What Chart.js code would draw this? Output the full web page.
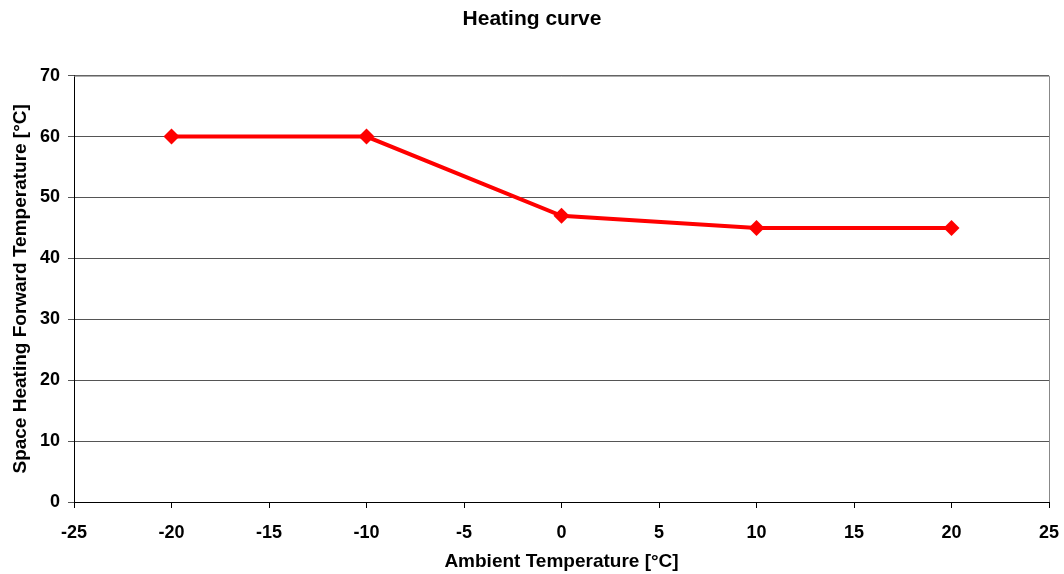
<!DOCTYPE html>
<html>
<head>
<meta charset="utf-8">
<script src="https://cdn.jsdelivr.net/npm/chart.js@4.4.1/dist/chart.umd.min.js"></script>
<style>
    html, body { margin: 0; padding: 0; background: #fff; }
    #wrap { width: 1064px; height: 574px; }
</style>
</head>
<body>
<div id="wrap"><canvas id="heatChart" width="1064" height="574"></canvas></div>
<script>
// Dữ liệu biểu đồ
var ambientTemps = [-20, -10, 0, 10, 20];
var forwardTemps = [60, 60, 47, 45, 45];
var xTicks = [-25, -20, -15, -10, -5, 0, 5, 10, 15, 20, 25];
var yTicks = [0, 10, 20, 30, 40, 50, 60, 70];

var points = ambientTemps.map(function (x, i) { return { x: x, y: forwardTemps[i] }; });

// Khung viền xám phía trên và bên phải
var frameBorder = {
    id: 'frameBorder',
    afterDatasetsDraw: function (chart) {
        var a = chart.chartArea, ctx = chart.ctx;
        ctx.save();
        ctx.strokeStyle = '#888';
        ctx.lineWidth = 1;
        ctx.beginPath();
        ctx.moveTo(a.left, a.top + 0.5);
        ctx.lineTo(a.right + 0.5, a.top + 0.5);
        ctx.lineTo(a.right + 0.5, a.bottom);
        ctx.stroke();
        ctx.restore();
    }
};

var fontFam = '"Liberation Sans", Arial, sans-serif';

new Chart(document.getElementById('heatChart'), {
    type: 'scatter',
    data: {
        datasets: [{
            label: 'Heating curve',
            data: points,
            showLine: true,
            borderColor: '#FF0000',
            backgroundColor: '#FF0000',
            borderWidth: 4,
            pointStyle: 'rectRot',
            pointRadius: 8,
            pointHoverRadius: 8,
            pointBorderWidth: 0,
            tension: 0
        }]
    },
    options: {
        responsive: false,
        animation: false,
        layout: { padding: { top: 0, right: 0, bottom: 0, left: 0 } },
        plugins: {
            legend: { display: false },
            tooltip: { enabled: false },
            title: {
                display: true,
                text: 'Heating curve',
                color: '#000',
                font: { family: fontFam, size: 21, weight: 'bold' },
                padding: { top: 6.5, bottom: 44 }
            }
        },
        scales: {
            x: {
                type: 'linear',
                min: -25,
                max: 25,
                afterBuildTicks: function (s) { s.ticks = xTicks.map(function (v) { return { value: v }; }); },
                afterFit: function (s) { s.height = 72; s.paddingRight = 15; s.paddingLeft = 0; },
                grid: { drawOnChartArea: false, drawTicks: true, tickLength: 6, color: '#000' },
                border: { display: true, color: '#000', width: 1 },
                ticks: {
                    color: '#000',
                    padding: 14,
                    maxRotation: 0,
                    font: { family: fontFam, size: 18, weight: 'bold' }
                },
                title: {
                    display: true,
                    text: 'Ambient Temperature [°C]',
                    color: '#000',
                    font: { family: fontFam, size: 19, weight: 'bold' },
                    padding: { top: 1, bottom: 1 }
                }
            },
            y: {
                min: 0,
                max: 70,
                afterBuildTicks: function (s) { s.ticks = yTicks.map(function (v) { return { value: v }; }); },
                afterFit: function (s) { s.width = 74; },
                grid: { drawOnChartArea: true, drawTicks: true, tickLength: 6, color: '#555' },
                border: { display: true, color: '#000', width: 1 },
                ticks: {
                    color: '#000',
                    padding: 8,
                    font: { family: fontFam, size: 18, weight: 'bold' }
                },
                title: {
                    display: true,
                    text: 'Space Heating Forward Temperature [°C]',
                    color: '#000',
                    font: { family: fontFam, size: 19, weight: 'bold' },
                    padding: { top: 9, bottom: 2 }
                }
            }
        }
    },
    plugins: [frameBorder]
});
</script>
</body>
</html>
